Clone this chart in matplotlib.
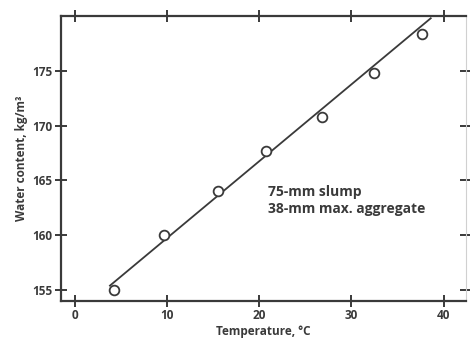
import numpy as np
import matplotlib.pyplot as plt

plt.rcParams['font.family'] = ['Open Sans', 'DejaVu Sans']

# data
temperature = [4.2, 9.7, 15.5, 20.7, 26.8, 32.4, 37.7]
water = [155.0, 160.0, 164.0, 167.7, 170.8, 174.8, 178.4]
fit_x = [3.8, 38.6]
fit_y = [155.4, 179.8]
xticks = [0, 10, 20, 30, 40]
yticks = [155, 160, 165, 170, 175]

ink = '#3a3a3a'

fig = plt.figure(figsize=(4.7, 3.42), dpi=100)
ax = fig.add_axes([0.130, 0.120, 0.861, 0.833])

ax.plot(fit_x, fit_y, '-', color=ink, linewidth=1.3)
ax.plot(temperature, water, 'o', markerfacecolor='white', markeredgecolor=ink,
        markeredgewidth=1.3, markersize=7)

ax.set_xlim(-1.5, 42.4)
ax.set_ylim(154, 180)
ax.set_xticks(xticks)
ax.set_yticks(yticks)

for side in ['left', 'bottom', 'top']:
    ax.spines[side].set_color(ink)
    ax.spines[side].set_linewidth(1.6)
ax.spines['right'].set_color('#d0d0d0')
ax.spines['right'].set_linewidth(0.8)

ax.tick_params(direction='inout', length=8, width=1.4, color=ink,
               top=True, right=True, labeltop=False, labelright=False,
               labelsize=8.5, labelcolor=ink, pad=2)
for lab in ax.get_xticklabels() + ax.get_yticklabels():
    lab.set_fontweight('bold')

ax.set_xlabel('Temperature, °C', weight='bold', fontsize=8.5, color=ink, labelpad=2)
ax.set_ylabel('Water content, kg/m³', weight='bold', fontsize=8.5, color=ink, labelpad=3)

ax.text(20.9, 163.2, '75-mm slump\n38-mm max. aggregate', fontsize=10,
        weight='bold', color=ink, va='center', ha='left', linespacing=1.25)

fig.savefig('out.png', dpi=100)
